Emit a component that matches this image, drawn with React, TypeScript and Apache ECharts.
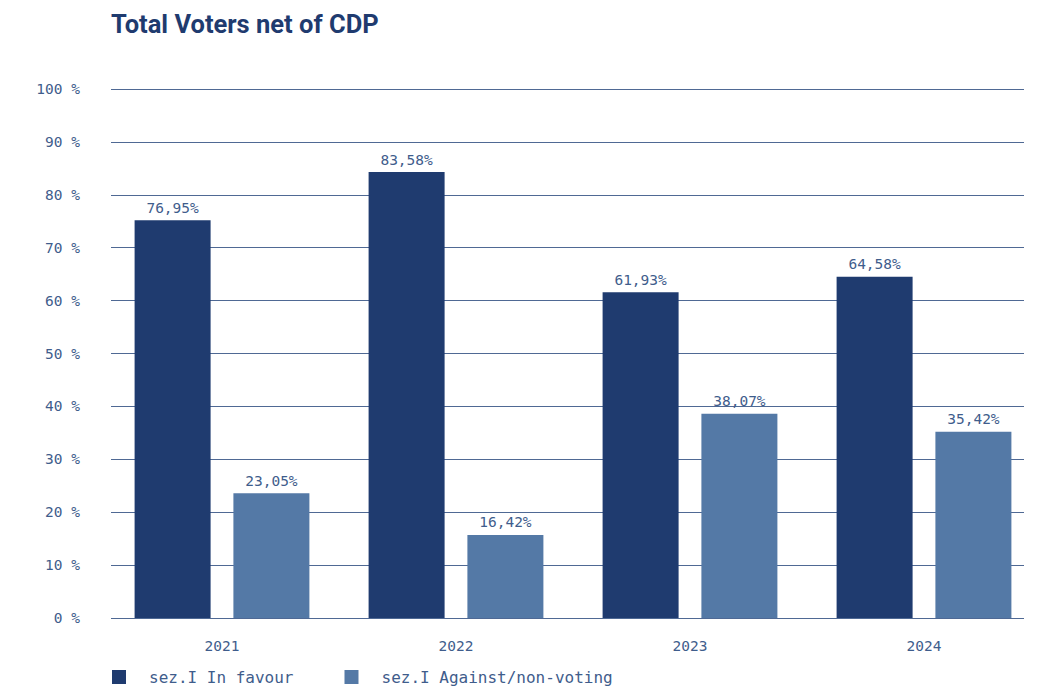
import React, { useEffect, useRef } from "react";
import * as echarts from "echarts";

const categories = ["2021", "2022", "2023", "2024"];
const inFavour = [75.2, 84.3, 61.6, 64.5];
const against = [23.6, 15.7, 38.6, 35.2];
const inFavourLabels = ["76,95%", "83,58%", "61,93%", "64,58%"];
const againstLabels = ["23,05%", "16,42%", "38,07%", "35,42%"];
const yTicks = [0, 10, 20, 30, 40, 50, 60, 70, 80, 90, 100];

const MONO = "'DejaVu Sans Mono', 'Liberation Mono', monospace";
const DARK = "#1f3b6f";
const LIGHT = "#5479a6";
const TEXT = "#3f5d8c";

export default function App() {
  const ref = useRef<HTMLDivElement>(null);
  useEffect(() => {
    if (!ref.current) return;
    const chart = echarts.init(ref.current, null, { renderer: "svg" });
    chart.setOption({
      animation: false,
      title: {
        text: "Total Voters net of CDP",
        left: 106,
        top: 6,
        textStyle: {
          fontFamily: "'Liberation Sans Narrow', 'Roboto', sans-serif",
          fontWeight: "bold",
          fontSize: 25.5,
          color: DARK,
        },
      },
      legend: {
        left: 107,
        top: 664,
        itemWidth: 14,
        itemHeight: 14,
        itemGap: 51,
        icon: "rect",
        textStyle: {
          fontFamily: MONO,
          fontSize: 16,
          color: TEXT,
          padding: [0, 0, 0, 18],
        },
        data: ["sez.I In favour", "sez.I Against/non-voting"],
      },
      grid: [
        { left: 105, width: 936, top: 89, height: 529 },
        { left: 111, width: 913, top: 89, height: 529 },
      ],
      xAxis: [
        {
          type: "category",
          gridIndex: 0,
          data: categories,
          axisLine: { show: false },
          axisTick: { show: false },
          axisLabel: {
            margin: 20,
            fontFamily: MONO,
            fontSize: 14.5,
            color: TEXT,
          },
        },
        { type: "value", gridIndex: 1, show: false, min: 0, max: 1 },
      ],
      yAxis: [
        {
          type: "value",
          gridIndex: 0,
          min: 0,
          max: 100,
          interval: 10,
          show: false,
        },
        {
          type: "value",
          gridIndex: 1,
          min: 0,
          max: 100,
          interval: 10,
          axisLine: { show: false },
          axisTick: { show: false },
          splitLine: { show: true, lineStyle: { color: "#4f6994", width: 1 } },
          axisLabel: {
            margin: 31,
            fontFamily: MONO,
            fontSize: 14.5,
            color: TEXT,
            formatter: (v: number) => (yTicks.includes(v) ? v + " %" : ""),
          },
        },
      ],
      series: [
        {
          name: "sez.I In favour",
          type: "bar",
          xAxisIndex: 0,
          yAxisIndex: 0,
          data: inFavour,
          barWidth: 76,
          barGap: "30%",
          itemStyle: { color: DARK },
          label: {
            show: true,
            position: "top",
            distance: 5,
            fontFamily: MONO,
            fontSize: 14.5,
            color: TEXT,
            formatter: (p: any) => inFavourLabels[p.dataIndex],
          },
        },
        {
          name: "sez.I Against/non-voting",
          type: "bar",
          xAxisIndex: 0,
          yAxisIndex: 0,
          data: against,
          barWidth: 76,
          barGap: "30%",
          itemStyle: { color: LIGHT },
          label: {
            show: true,
            position: "top",
            distance: 5,
            fontFamily: MONO,
            fontSize: 14.5,
            color: TEXT,
            formatter: (p: any) => againstLabels[p.dataIndex],
          },
        },
      ],
    });
    return () => chart.dispose();
  }, []);
  return <div ref={ref} style={{ width: 1049, height: 688, position: "absolute", left: 0, top: 0 }} />;
}
